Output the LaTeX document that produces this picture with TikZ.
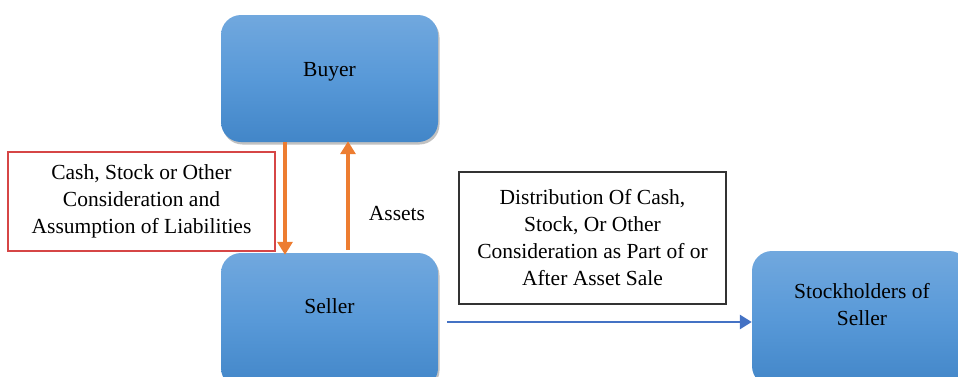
\documentclass[tikz,border=0pt]{standalone}
\usepackage{fontspec}
\setmainfont{Liberation Serif}
\usetikzlibrary{arrows.meta,shadows}
\definecolor{boxtop}{RGB}{113,168,222}
\definecolor{boxmid}{RGB}{88,153,216}
\definecolor{boxbot}{RGB}{66,134,200}
\definecolor{orng}{RGB}{237,125,49}
\definecolor{blu}{RGB}{68,114,196}
\definecolor{redb}{RGB}{214,70,70}
\tikzset{
  entity/.style={rounded corners=20pt, minimum width=217pt, inner sep=0pt,
    top color=boxtop, bottom color=boxbot, middle color=boxmid, draw=none,
    drop shadow={shadow xshift=1.5pt, shadow yshift=-2.5pt, opacity=0.35, fill=black!70}},
  lbl/.style={font=\fontsize{21.5}{27}\selectfont, align=center, inner sep=0pt, text=black},
  note/.style={lbl, draw, line width=1.2pt},
  oarrow/.style={draw=orng, line width=3.2pt, -{Triangle[width=15pt,length=13pt]}},
  barrow/.style={draw=blu, line width=2.8pt, -{Triangle[width=14pt,length=12pt]}}
}
\begin{document}
\begin{tikzpicture}[x=1pt,y=-1pt]
\useasboundingbox (0,0) rectangle (958,376);
\clip (0,0) rectangle (958,376);
\node[entity, minimum height=127pt] (buyer) at (329.5,78.5) {};
\node[entity, minimum height=135pt] (seller) at (329.5,320.5) {};
\node[entity, minimum height=135pt] (stock) at (860.5,318.5) {};
\node[lbl] (buyerT) at ([yshift=7pt]buyer.center) {Buyer};
\node[lbl] (sellerT) at (329.5,306) {Seller};
\node[lbl] (stockT) at (862,305) {Stockholders of\\Seller};
\node[note, draw=redb, minimum width=267pt, minimum height=99pt] (cash) at (141.5,201.5)
  {Cash, Stock or Other\\Consideration and\\Assumption of Liabilities};
\node[note, draw=black!80, minimum width=267pt, minimum height=132pt] (dist) at (592.5,238)
  {Distribution Of Cash,\\Stock, Or Other\\Consideration as Part of or\\After Asset Sale};
\node[lbl] (assets) at (397,213) {Assets};
\coordinate (xa) at (285,0);
\coordinate (xb) at (348,0);
\coordinate (yb) at (0,322);
\draw[oarrow, shorten >=-2pt] (buyer.south -| xa) -- (seller.north -| xa);
\draw[oarrow, shorten <=3pt, shorten >=-1pt] (seller.north -| xb) -- (buyer.south -| xb);
\draw[barrow, shorten <=9pt] (seller.east |- yb) -- (stock.west |- yb);
\end{tikzpicture}
\end{document}
